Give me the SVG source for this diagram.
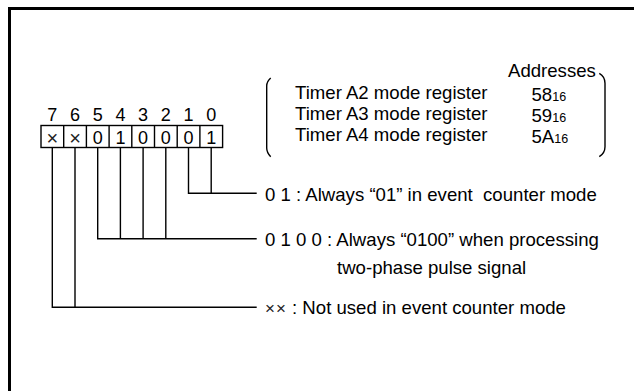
<svg xmlns="http://www.w3.org/2000/svg" width="634" height="391" viewBox="0 0 634 391">
<style>
text{font-family:"Liberation Sans",Arial,sans-serif;fill:#000;}
.t{font-size:18.6px;}
.b{font-size:18px;text-anchor:middle;}
.x{font-size:20px;text-anchor:middle;fill:#222;}
.sub{font-size:12.5px;}
.ln{stroke:#000;stroke-width:1.4;fill:none;}
.cell{fill:#fff;stroke:#000;stroke-width:1.4;}
</style>
<rect width="634" height="391" fill="#fff"/>
<path d="M9.5,400 V8.5 H640" fill="none" stroke="#000" stroke-width="3"/>

<g id="address-block">
<path class="ln" d="M270.7,78 Q266.7,81.5 266.7,86 V148 Q266.7,152.5 270.7,156.7"/>
<path class="ln" d="M599.3,73.3 Q605,76.5 605,83.3 V146.7 Q605,153 599.3,156.7"/>
<text class="t" x="508" y="77">Addresses</text>
<text class="t" x="295" y="99">Timer A2 mode register</text>
<text class="t" x="295" y="120">Timer A3 mode register</text>
<text class="t" x="295" y="141">Timer A4 mode register</text>
<text class="t" x="531.5" y="100.5">58<tspan class="sub">16</tspan></text>
<text class="t" x="531.5" y="121.5">59<tspan class="sub">16</tspan></text>
<text class="t" x="531.5" y="142.5">5A<tspan class="sub">16</tspan></text>
</g>

<g id="register">
<rect class="cell" x="41" y="125.5" width="181.6" height="22"/>
<path class="ln" d="M63.7,125.5V147.5M86.4,125.5V147.5M109.1,125.5V147.5M131.8,125.5V147.5M154.5,125.5V147.5M177.2,125.5V147.5M199.9,125.5V147.5"/>
<text class="b" x="52.3" y="121">7</text>
<text class="b" x="75" y="121">6</text>
<text class="b" x="97.7" y="121">5</text>
<text class="b" x="120.4" y="121">4</text>
<text class="b" x="143.1" y="121">3</text>
<text class="b" x="165.8" y="121">2</text>
<text class="b" x="188.5" y="121">1</text>
<text class="b" x="211.2" y="121">0</text>
<text class="x" x="52.3" y="144.5">×</text>
<text class="x" x="75" y="144.5">×</text>
<text class="b" x="97.7" y="144">0</text>
<text class="b" x="120.4" y="144">1</text>
<text class="b" x="143.1" y="144">0</text>
<text class="b" x="165.8" y="144">0</text>
<text class="b" x="188.5" y="144">0</text>
<text class="b" x="211.2" y="144">1</text>
</g>

<g id="connectors">
<path class="ln" d="M188.5,147.5V193.3H256.7M211.2,147.5V193.3"/>
<path class="ln" d="M97.7,147.5V238.7H256.7M120.4,147.5V238.7M143.1,147.5V238.7M165.8,147.5V238.7"/>
<path class="ln" d="M52.3,147.5V307.3H256.7M75,147.5V307.3"/>
</g>

<g id="label-bits10">
<text class="t" x="265" y="200.5" style="white-space:pre">0 1 : Always “01” in event  counter mode</text>
</g>
<g id="label-bits52">
<text class="t" x="265" y="245.5">0 1 0 0 : Always “0100” when processing</text>
<text class="t" x="337" y="274">two-phase pulse signal</text>
</g>
<g id="label-bits76">
<text class="t" x="265" y="314"><tspan style="font-size:17px;fill:#222" letter-spacing="1">××</tspan> : Not used in event counter mode</text>
</g>
</svg>
